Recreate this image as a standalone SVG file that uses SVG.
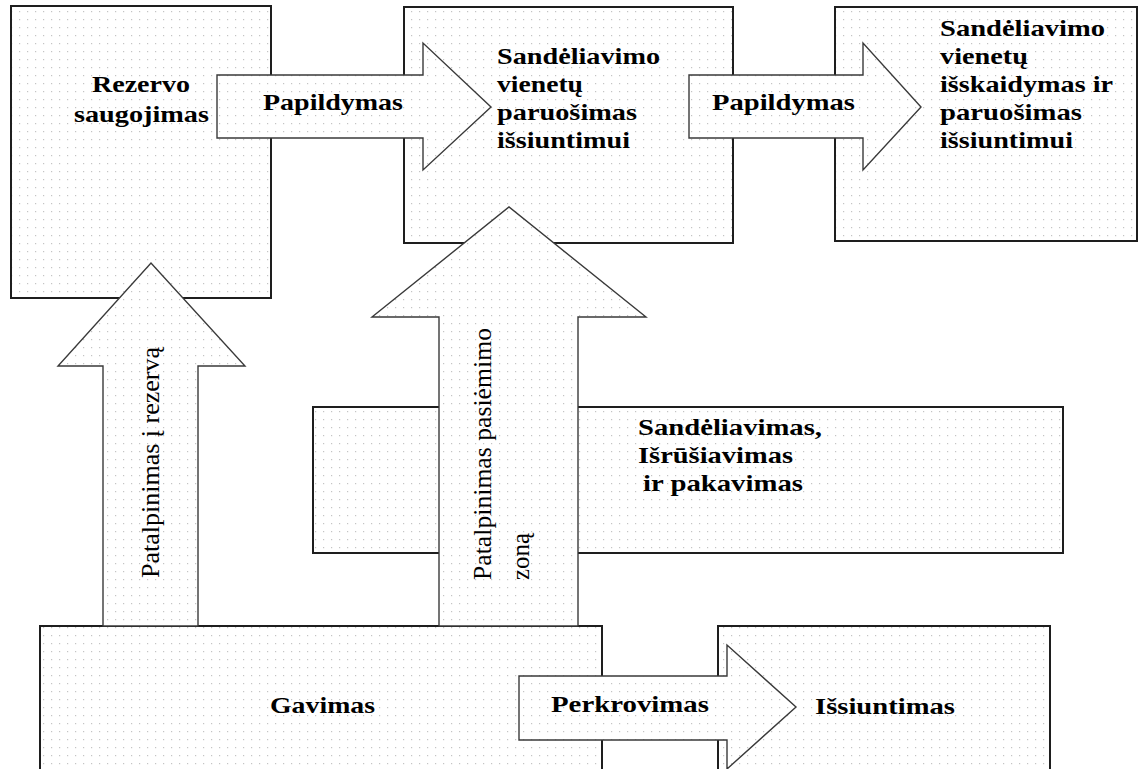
<svg xmlns="http://www.w3.org/2000/svg" width="1143" height="769" viewBox="0 0 1143 769">
  <defs>
    <!-- light dotted fill used by every box and arrow -->
    <pattern id="dots" width="8" height="8" patternUnits="userSpaceOnUse">
      <rect width="8" height="8" fill="#ffffff"/>
      <rect x="3" y="3" width="1.2" height="1.2" fill="#c4c4c4"/>
    </pattern>
  </defs>
  <style>
    .box { fill: url(#dots); stroke: #1e1e1e; stroke-width: 2; }
    .arrow { fill: url(#dots); stroke: #3a3a3a; stroke-width: 1.4; stroke-linejoin: miter; }
    .lbl { font-family: "Liberation Serif", "Times New Roman", serif; font-weight: bold; font-size: 23px; fill: #000; }
    .vlbl { font-family: "Liberation Serif", "Times New Roman", serif; font-size: 25px; fill: #000; }
  </style>
  <rect width="1143" height="769" fill="#ffffff"/>

  <!-- process blocks -->
  <g id="rezervo">
    <rect class="box" x="11" y="6" width="260" height="292"/>
    <text class="lbl" x="92" y="92" textLength="98" lengthAdjust="spacingAndGlyphs">Rezervo</text>
    <text class="lbl" x="74" y="122" textLength="135" lengthAdjust="spacingAndGlyphs">saugojimas</text>
  </g>
  <g id="paruosimas">
    <rect class="box" x="404" y="7" width="329" height="236"/>
    <text class="lbl" x="497" y="64" textLength="163" lengthAdjust="spacingAndGlyphs">Sandėliavimo</text>
    <text class="lbl" x="497" y="92" textLength="86" lengthAdjust="spacingAndGlyphs">vienetų</text>
    <text class="lbl" x="497" y="120" textLength="140" lengthAdjust="spacingAndGlyphs">paruošimas</text>
    <text class="lbl" x="497" y="148" textLength="133" lengthAdjust="spacingAndGlyphs">išsiuntimui</text>
  </g>
  <g id="isskaidymas">
    <rect class="box" x="835" y="7" width="302" height="234"/>
    <text class="lbl" x="940" y="36" textLength="165" lengthAdjust="spacingAndGlyphs">Sandėliavimo</text>
    <text class="lbl" x="940" y="64" textLength="88" lengthAdjust="spacingAndGlyphs">vienetų</text>
    <text class="lbl" x="940" y="92" textLength="173" lengthAdjust="spacingAndGlyphs">išskaidymas ir</text>
    <text class="lbl" x="940" y="120" textLength="142" lengthAdjust="spacingAndGlyphs">paruošimas</text>
    <text class="lbl" x="940" y="148" textLength="133" lengthAdjust="spacingAndGlyphs">išsiuntimui</text>
  </g>
  <g id="sandeliavimas">
    <rect class="box" x="313" y="407" width="750" height="146"/>
    <text class="lbl" x="638" y="435" textLength="184" lengthAdjust="spacingAndGlyphs">Sandėliavimas,</text>
    <text class="lbl" x="638" y="463" textLength="155" lengthAdjust="spacingAndGlyphs">Išrūšiavimas</text>
    <text class="lbl" x="643" y="491" textLength="160" lengthAdjust="spacingAndGlyphs">ir pakavimas</text>
  </g>
  <g id="gavimas">
    <rect class="box" x="40" y="626" width="562" height="160"/>
    <text class="lbl" x="270" y="713" textLength="105" lengthAdjust="spacingAndGlyphs">Gavimas</text>
  </g>
  <g id="issiuntimas">
    <rect class="box" x="718" y="626" width="332" height="160"/>
    <text class="lbl" x="815" y="714" textLength="140" lengthAdjust="spacingAndGlyphs">Išsiuntimas</text>
  </g>

  <!-- block arrows between the blocks -->
  <g id="connectors">
    <g id="papildymas-1">
      <polygon class="arrow" points="217,75 423,75 423,43 491,107 423,170 423,138 217,138"/>
      <text class="lbl" x="263" y="110" textLength="140" lengthAdjust="spacingAndGlyphs">Papildymas</text>
    </g>
    <g id="papildymas-2">
      <polygon class="arrow" points="689,75 863,75 863,43 921,107 863,170 863,138 689,138"/>
      <text class="lbl" x="712" y="110" textLength="143" lengthAdjust="spacingAndGlyphs">Papildymas</text>
    </g>
    <g id="patalpinimas-rezerva">
      <polygon class="arrow" points="103,626 103,366 58,366 151,263 245,366 198,366 198,626"/>
      <text class="vlbl" transform="translate(159,578) rotate(-90)" textLength="231" lengthAdjust="spacingAndGlyphs">Patalpinimas į rezervą</text>
    </g>
    <g id="patalpinimas-zona">
      <polygon class="arrow" points="439,626 439,317 372,317 509,207 646,317 578,317 578,626"/>
      <text class="vlbl" transform="translate(491,580) rotate(-90)" textLength="252" lengthAdjust="spacingAndGlyphs">Patalpinimas pasiėmimo</text>
      <text class="vlbl" transform="translate(529,580) rotate(-90)" textLength="47" lengthAdjust="spacingAndGlyphs">zoną</text>
    </g>
    <g id="perkrovimas">
      <polygon class="arrow" points="519,676 727,676 727,645 796,707 727,769 727,740 519,740"/>
      <text class="lbl" x="551" y="712" textLength="158" lengthAdjust="spacingAndGlyphs">Perkrovimas</text>
    </g>
  </g>
</svg>
